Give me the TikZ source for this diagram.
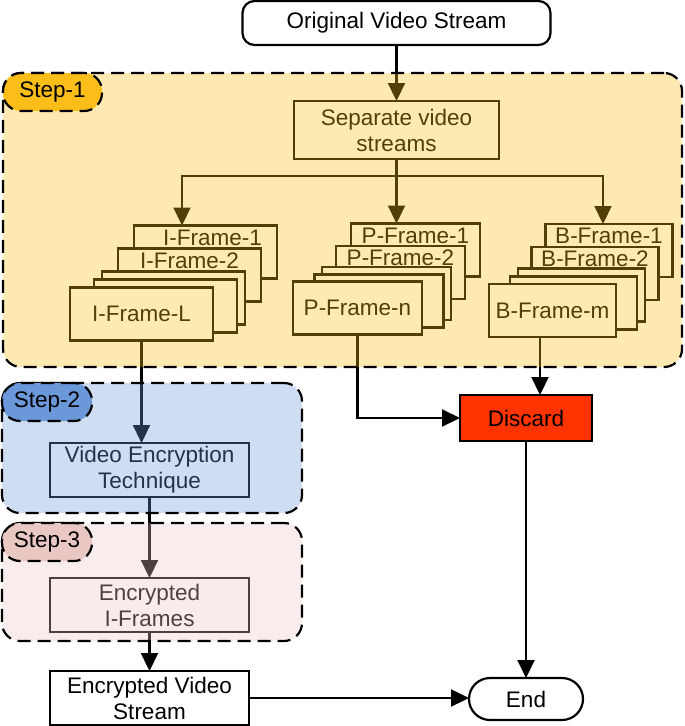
\documentclass[tikz,border=0pt]{standalone}
\usepackage{fontspec}
\setmainfont{Liberation Sans}
\usetikzlibrary{arrows.meta,positioning}
\definecolor{stepone}{HTML}{FBBD18}
\definecolor{steptwo}{HTML}{6A98D8}
\definecolor{stepthree}{HTML}{E9C8C4}
\definecolor{discred}{HTML}{FF3300}

\begin{document}
\begin{tikzpicture}[
  x=1pt, y=-1pt,
  every node/.style={font=\fontsize{22.5}{26}\selectfont},
  box/.style={draw, fill=white, line width=2.2pt, align=center, inner sep=0pt, outer sep=0pt},
  frm/.style={box, minimum height=53pt},
  ftxt/.style={inner sep=0pt},
  term/.style={box, rounded corners=12pt},
  region/.style={draw, line width=2.2pt, dash pattern=on 13pt off 7pt, rounded corners=18pt,
    fill opacity=0.33, inner sep=0pt, outer sep=0pt},
  pill/.style={draw, line width=2.2pt, dash pattern=on 13pt off 7pt, rounded corners=18pt,
    minimum height=38pt, inner sep=0pt, outer sep=0pt},
  ln/.style={line width=2.2pt},
  arr/.style={line width=2.2pt, -{Triangle[length=18pt, width=17pt]}}
]
\useasboundingbox (0,0) rectangle (685,726);
% input and splitting
\node[term, minimum width=308pt, minimum height=44pt] (orig) at (396.5,23) {Original Video Stream};
\node[box, minimum width=205pt, minimum height=58pt] (sep) at (396.5,130) {Separate video\\streams};
\coordinate (split) at (396.5,176);
% I-frames
\node[frm, minimum width=143pt] (i1) at (205.5,252) {};
\node[ftxt] (i1t) at ([xshift=7pt, yshift=-12pt]i1.north) {I-Frame-1};
\node[frm, minimum width=143pt] (i2) at (189.5,275) {};
\node[ftxt] (i2t) at ([yshift=-12pt]i2.north) {I-Frame-2};
\node[frm, minimum width=143pt] (i3) at (173.5,298) {};
\node[frm, minimum width=143pt] (i4) at (165.5,306) {};
\node[frm, minimum width=143pt] (iL) at (141.5,314) {I-Frame-L};
% P-frames
\node[frm, minimum width=129pt] (p1) at (415.5,250) {};
\node[ftxt] (p1t) at ([yshift=-12pt]p1.north) {P-Frame-1};
\node[frm, minimum width=129pt] (p2) at (400.5,272.5) {};
\node[ftxt] (p2t) at ([yshift=-12pt]p2.north) {P-Frame-2};
\node[frm, minimum width=129pt] (p3) at (386.5,293.5) {};
\node[frm, minimum width=129pt] (p4) at (379,301) {};
\node[frm, minimum width=129pt] (pn) at (357.5,308) {P-Frame-n};
% B-frames
\node[frm, minimum width=127pt] (b1) at (609,250.5) {};
\node[ftxt] (b1t) at ([yshift=-12pt]b1.north) {B-Frame-1};
\node[frm, minimum width=127pt] (b2) at (595,273.5) {};
\node[ftxt] (b2t) at ([yshift=-12pt]b2.north) {B-Frame-2};
\node[frm, minimum width=127pt] (b3) at (581.5,295) {};
\node[frm, minimum width=127pt] (b4) at (573.5,303) {};
\node[frm, minimum width=127pt] (bm) at (552.5,310.5) {B-Frame-m};
% encryption path
\node[box, minimum width=199pt, minimum height=54pt] (vet) at (149.5,470) {Video Encryption\\Technique};
\node[box, minimum width=199pt, minimum height=54pt] (eif) at (149.5,605) {Encrypted\\I-Frames};
\node[box, minimum width=199pt, minimum height=54pt] (evs) at (149.5,698) {Encrypted Video\\Stream};
% discard and end
\node[box, fill=discred, minimum width=132pt, minimum height=46pt] (disc) at (526,418) {Discard};
\node[box, rounded corners=21pt, minimum width=114pt, minimum height=42pt] (end) at (526,699) {End};
% connectors
\draw[arr] (orig) -- (sep);
\draw[ln] (sep) -- (split);
\draw[arr] (split) -| ([xshift=-23.5pt]i1.north);
\draw[arr] (split) -- (split |- p1.north);
\draw[arr] (split) -| ([xshift=-6pt]b1.north);
\draw[arr] (iL.south) -- (iL.south |- vet.north);
\draw[arr] (vet) -- (eif);
\draw[arr] (eif) -- (evs);
\draw[arr] (pn.south) |- (disc.west);
\draw[arr] ([xshift=-12.5pt]bm.south) -- ([xshift=-12.5pt]bm.south |- disc.north);
\draw[arr] (disc) -- (end);
\draw[arr] (evs.east) -- (evs.east -| end.west);
% step regions laid over the content
\node[region, fill=stepone, minimum width=679pt, minimum height=294pt] (s1) at (342.5,220) {};
\node[region, fill=steptwo, minimum width=300pt, minimum height=130pt] (s2) at (152,448) {};
\node[region, fill=stepthree, minimum width=300pt, minimum height=118pt] (s3) at (152,582) {};
\node[pill, fill=stepone, minimum width=99pt, anchor=north west] (s1lab) at (s1.north west) {Step-1};
\node[pill, fill=steptwo, minimum width=90pt, anchor=north west] (s2lab) at (s2.north west) {Step-2};
\node[pill, fill=stepthree, minimum width=90pt, anchor=north west] (s3lab) at (s3.north west) {Step-3};
\end{tikzpicture}
\end{document}
